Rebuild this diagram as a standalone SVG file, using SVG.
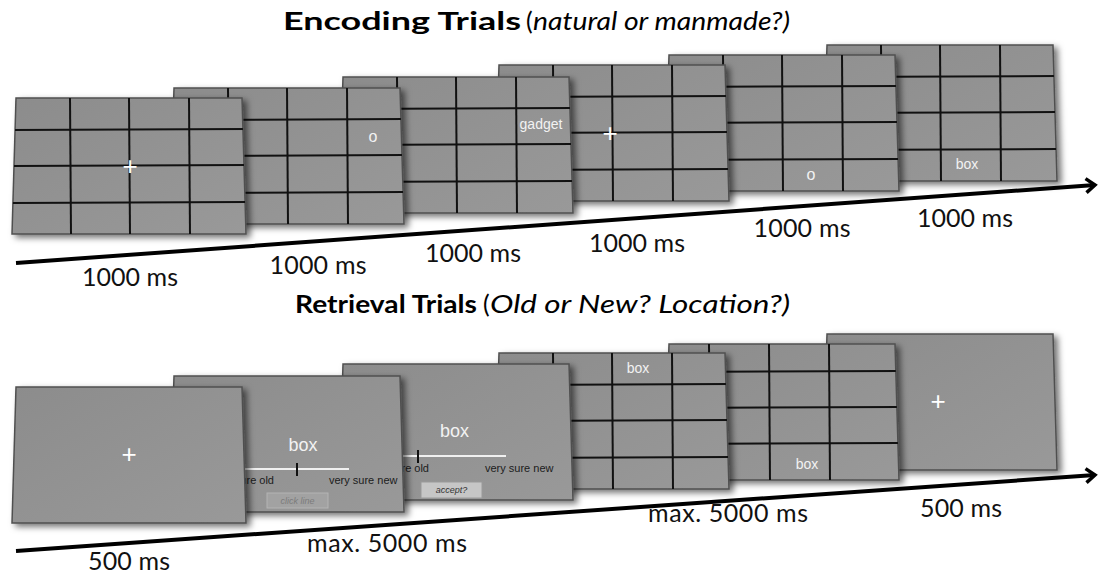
<svg xmlns="http://www.w3.org/2000/svg" xmlns:xlink="http://www.w3.org/1999/xlink" width="1099" height="575" viewBox="0 0 1099 575">
<style>
.title{font-family:Lato,"Liberation Sans",sans-serif;font-size:25px;fill:#000}
.b{font-weight:bold}
.i{font-style:italic}
.lbl{font-family:Lato,"Liberation Sans",sans-serif;font-size:25px;fill:#111;text-anchor:middle}
.w{font-family:"Liberation Sans",Arial,sans-serif;fill:#f2f2f2;text-anchor:middle}
.plus{font-family:"Liberation Sans",Arial,sans-serif;font-size:26px;fill:#fff;text-anchor:middle}
.sl{font-family:"Liberation Sans",Arial,sans-serif;font-size:11px;fill:#1c1c1c}
.gl{stroke:#111;stroke-width:2;fill:none}
.card{fill:url(#cardFill);stroke:#505050;stroke-width:1.5;filter:url(#shadow)}
.axis{stroke:#000;stroke-width:4;fill:none;marker-end:url(#arrowhead)}
</style>
<defs>
<linearGradient id="cardFill" x1="0" y1="0" x2="1" y2="1">
<stop offset="0" stop-color="#8c8c8c"/>
<stop offset="1" stop-color="#999999"/>
</linearGradient>
<filter id="shadow" x="-10%" y="-10%" width="125%" height="130%">
<feDropShadow dx="4" dy="3" stdDeviation="3" flood-color="#000" flood-opacity="0.55"/>
</filter>
<clipPath id="cardClip" clipPathUnits="userSpaceOnUse">
<polygon points="2,0 228,0 232,136 -2,136"/>
</clipPath>
<polygon id="cardShape" class="card" points="2,0 228,0 232,136 -2,136"/>
<g id="grid" class="gl" clip-path="url(#cardClip)">
<line x1="56" y1="0" x2="57" y2="136"/>
<line x1="115" y1="0" x2="116" y2="136"/>
<line x1="175" y1="0" x2="176" y2="136"/>
<line x1="-3" y1="32" x2="233" y2="31"/>
<line x1="-3" y1="68" x2="233" y2="67"/>
<line x1="-3" y1="105" x2="233" y2="104"/>
</g>
<g id="grid2" class="gl" clip-path="url(#cardClip)">
<line x1="42" y1="0" x2="43" y2="136"/>
<line x1="102" y1="0" x2="103" y2="136"/>
<line x1="162" y1="0" x2="163" y2="136"/>
<line x1="-3" y1="28" x2="233" y2="27"/>
<line x1="-3" y1="64" x2="233" y2="63"/>
<line x1="-3" y1="100" x2="233" y2="99"/>
</g>
<marker id="arrowhead" markerUnits="userSpaceOnUse" orient="auto" refX="0" refY="0" viewBox="-12 -10 14 20" markerWidth="14" markerHeight="20" overflow="visible">
<path d="M-9,-7 L0,0 L-9,7" fill="none" stroke="#000" stroke-width="3.5" stroke-linejoin="miter"/>
</marker>
</defs>

<rect x="0" y="0" width="1099" height="575" fill="#fff"/>

<g id="title-encoding">
<text class="title" y="30"><tspan class="b" x="283" textLength="238" lengthAdjust="spacingAndGlyphs">Encoding Trials</tspan><tspan x="526">(</tspan><tspan class="i" x="533" textLength="257" lengthAdjust="spacingAndGlyphs">natural or manmade?)</tspan></text>
</g>
<g id="title-retrieval">
<text class="title" y="313"><tspan class="b" x="295" textLength="182" lengthAdjust="spacingAndGlyphs">Retrieval Trials</tspan><tspan x="483">(</tspan><tspan class="i" x="490" textLength="300" lengthAdjust="spacingAndGlyphs">Old or New? Location?)</tspan></text>
</g>

<!-- Encoding row (back to front) -->
<g id="enc6" transform="translate(825,45)">
<use xlink:href="#cardShape"/><use xlink:href="#grid"/>
<text class="w" x="142" y="124" font-size="14">box</text>
</g>
<g id="enc5" transform="translate(667,55)">
<use xlink:href="#cardShape"/><use xlink:href="#grid"/>
<text class="w" x="144" y="125" font-size="16">o</text>
</g>
<g id="enc4" transform="translate(497,65)">
<use xlink:href="#cardShape"/><use xlink:href="#grid"/>
<text class="plus" x="113" y="77">+</text>
</g>
<g id="enc3" transform="translate(341,77)">
<use xlink:href="#cardShape"/><use xlink:href="#grid"/>
<text class="w" x="200" y="52" font-size="14">gadget</text>
</g>
<g id="enc2" transform="translate(172,88)">
<use xlink:href="#cardShape"/><use xlink:href="#grid"/>
<text class="w" x="201" y="54" font-size="16">o</text>
</g>
<g id="enc1" transform="translate(14,98)">
<use xlink:href="#cardShape"/><use xlink:href="#grid"/>
<text class="plus" x="116" y="77">+</text>
</g>

<!-- Retrieval row (back to front) -->
<g id="ret6" transform="translate(825,334)">
<use xlink:href="#cardShape"/>
<text class="plus" x="113" y="76">+</text>
</g>
<g id="ret5" transform="translate(667,344)">
<use xlink:href="#cardShape"/><use xlink:href="#grid2"/>
<text class="w" x="140" y="125" font-size="14">box</text>
</g>
<g id="ret4" transform="translate(497,353)">
<use xlink:href="#cardShape"/><use xlink:href="#grid"/>
<text class="w" x="141" y="20" font-size="14">box</text>
</g>
<g id="ret3" transform="translate(341,364)">
<use xlink:href="#cardShape"/>
<text class="w" x="113.5" y="73" font-size="18">box</text>
<line x1="25" y1="92" x2="165" y2="92" stroke="#f0f0f0" stroke-width="2"/>
<line x1="77" y1="86" x2="77" y2="99" stroke="#111" stroke-width="2"/>
<text class="sl" x="88" y="108" text-anchor="end">very sure old</text>
<text class="sl" x="144" y="108">very sure new</text>
<rect x="80" y="118" width="61" height="16" fill="#c6c6c6" stroke="#9a9a9a" stroke-width="1"/>
<text x="110.5" y="129" font-family="Liberation Sans, Arial, sans-serif" font-size="9" font-style="italic" fill="#333" text-anchor="middle">accept?</text>
</g>
<g id="ret2" transform="translate(172,376)">
<use xlink:href="#cardShape"/>
<text class="w" x="131" y="75" font-size="18">box</text>
<line x1="40" y1="93" x2="177" y2="93" stroke="#f0f0f0" stroke-width="2"/>
<line x1="125" y1="87" x2="125" y2="100" stroke="#111" stroke-width="2"/>
<text class="sl" x="102" y="108" text-anchor="end">very sure old</text>
<text class="sl" x="157" y="108">very sure new</text>
<rect x="95" y="117" width="61" height="15" fill="#a2a2a2" stroke="#b4b4b4" stroke-width="1"/>
<text x="125.5" y="128" font-family="Liberation Sans, Arial, sans-serif" font-size="9" font-style="italic" fill="#7c7c7c" text-anchor="middle">click line</text>
</g>
<g id="ret1" transform="translate(14,387)">
<use xlink:href="#cardShape"/>
<text class="plus" x="115" y="76">+</text>
</g>

<g id="connectors">
<line class="axis" x1="16" y1="263" x2="1095" y2="185"/>
<line class="axis" x1="16" y1="551" x2="1095" y2="475"/>
</g>

<g id="labels-encoding">
<text class="lbl" x="130" y="286" textLength="96">1000 ms</text>
<text class="lbl" x="318" y="274" textLength="97">1000 ms</text>
<text class="lbl" x="473" y="262" textLength="96">1000 ms</text>
<text class="lbl" x="637" y="252" textLength="96">1000 ms</text>
<text class="lbl" x="802" y="237" textLength="97">1000 ms</text>
<text class="lbl" x="965" y="227" textLength="96">1000 ms</text>
</g>
<g id="labels-retrieval">
<text class="lbl" x="129" y="570" textLength="82">500 ms</text>
<text class="lbl" x="387" y="552" textLength="160">max. 5000 ms</text>
<text class="lbl" x="728" y="522" textLength="160">max. 5000 ms</text>
<text class="lbl" x="961" y="517" textLength="82">500 ms</text>
</g>
</svg>
